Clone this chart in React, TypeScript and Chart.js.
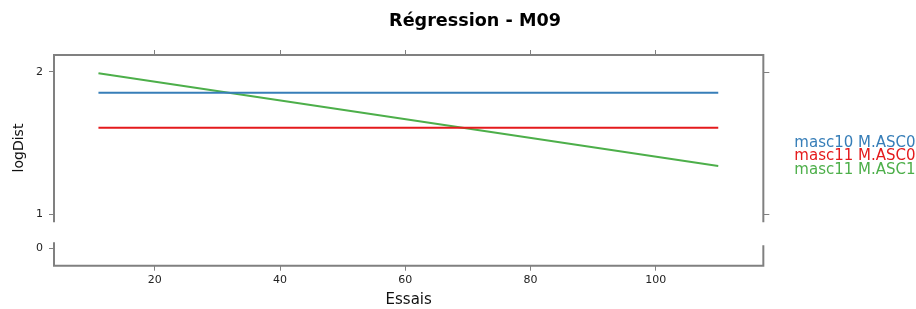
import React, { useEffect, useRef } from "react";
import { Chart, registerables } from "chart.js";

Chart.register(...registerables);

// ---- data ----
const TITLE = "Régression - M09";
const X_LABEL = "Essais";
const Y_LABEL = "logDist";
const seriesNames = ["masc10 M.ASC0", "masc11 M.ASC0", "masc11 M.ASC1"];
const essais = [11, 110];
const masc10ASC0 = [1.853, 1.853];
const masc11ASC0 = [1.607, 1.607];
const masc11ASC1 = [1.989, 1.339];
const xTicks = [20, 40, 60, 80, 100];
const yUpperTicks = [1, 2];
const yLowerTicks = [0];
const xRange = [3.9, 117.2];
const yUpperRange = [0.813, 2.117];
const yLowerRange = [-0.122, 0.051];
const upperBreak = 0.944;
const lowerBreakLeft = 0.042;
const lowerBreakRight = 0.021;

// ---- styles ----
const W = 916;
const H = 309;
const AREA = { left: 54, top: 55, bottom: 265.7 };
const colors = ["#377EB8", "#E41A1C", "#4DAF4A"];
const FRAME = "#808080";
const FONT = "'DejaVu Sans', sans-serif";

const frameAndShift = {
  id: "frameAndShift",
  afterLayout(chart: any) {
    const t = chart.titleBlock;
    if (t) {
      t.left += 17;
      t.right += 17;
    }
    const lg = chart.legend;
    if (lg) {
      lg.top += 2;
      lg.bottom += 2;
    }
  },
  afterDraw(chart: any) {
    const { ctx, chartArea } = chart;
    const yU = chart.scales.yU;
    const yL = chart.scales.yL;
    const { left, right, top, bottom } = chartArea;
    ctx.save();
    ctx.strokeStyle = FRAME;
    ctx.lineWidth = 2;
    ctx.lineCap = "butt";
    ctx.beginPath();
    ctx.moveTo(left - 1, top);
    ctx.lineTo(right + 1, top);
    ctx.moveTo(left - 1, bottom);
    ctx.lineTo(right + 1, bottom);
    ctx.moveTo(left, top);
    ctx.lineTo(left, yU.getPixelForValue(upperBreak));
    ctx.moveTo(left, yL.getPixelForValue(lowerBreakLeft));
    ctx.lineTo(left, bottom);
    ctx.moveTo(right, top);
    ctx.lineTo(right, yU.getPixelForValue(upperBreak));
    ctx.moveTo(right, yL.getPixelForValue(lowerBreakRight));
    ctx.lineTo(right, bottom);
    ctx.stroke();
    // mirrored ticks on the right side
    ctx.lineWidth = 1;
    ctx.beginPath();
    yUpperTicks.forEach((v) => {
      const py = Math.round(yU.getPixelForValue(v)) + 0.5;
      ctx.moveTo(right, py);
      ctx.lineTo(right + 6, py);
    });
    ctx.stroke();
    ctx.restore();
  },
};

const tickGrid = {
  drawOnChartArea: false,
  drawTicks: true,
  tickLength: 5,
  color: FRAME,
  tickColor: FRAME,
  lineWidth: 1,
};

const tickFont = { family: FONT, size: 11 };

export default function App() {
  const ref = useRef<HTMLCanvasElement>(null);

  useEffect(() => {
    if (!ref.current) return;
    const series = [masc10ASC0, masc11ASC0, masc11ASC1];
    const chart = new Chart(ref.current, {
      type: "line",
      data: {
        datasets: series.map((vals, i) => ({
          label: seriesNames[i],
          data: essais.map((x, j) => ({ x, y: vals[j] })),
          borderColor: colors[i],
          backgroundColor: colors[i],
          borderWidth: 2,
          pointRadius: 0,
          tension: 0,
          fill: false,
          yAxisID: "yU",
          xAxisID: "x",
        })),
      },
      options: {
        responsive: false,
        animation: false,
        devicePixelRatio: 1,
        layout: { padding: 0 },
        plugins: {
          tooltip: { enabled: false },
          title: {
            display: true,
            text: TITLE,
            color: "#000",
            font: { family: FONT, size: 17.6, weight: "bold" },
            padding: { top: 11, bottom: 0 },
          },
          legend: {
            display: true,
            position: "right",
            align: "center",
            labels: {
              boxWidth: 25,
              boxHeight: 0,
              padding: -1.5,
              font: { family: FONT, size: 15 },
              generateLabels: (c: any) =>
                c.data.datasets.map((ds: any, i: number) => ({
                  text: ds.label,
                  fontColor: colors[i],
                  fillStyle: "rgba(0,0,0,0)",
                  strokeStyle: "rgba(0,0,0,0)",
                  lineWidth: 0,
                  hidden: false,
                  datasetIndex: i,
                })),
            },
          },
        },
        scales: {
          x: {
            type: "linear",
            position: "bottom",
            min: xRange[0],
            max: xRange[1],
            afterBuildTicks: (s: any) => {
              s.ticks = xTicks.map((v) => ({ value: v }));
            },
            afterFit: (s: any) => {
              s.height = H - AREA.bottom;
            },
            grid: tickGrid,
            border: { display: false },
            ticks: { color: "#222", font: tickFont, padding: 3, maxRotation: 0 },
            title: {
              display: true,
              text: X_LABEL,
              color: "#111",
              font: { family: FONT, size: 15 },
              padding: { top: 0, bottom: 0 },
            },
          },
          xTop: {
            type: "linear",
            position: "top",
            min: xRange[0],
            max: xRange[1],
            afterBuildTicks: (s: any) => {
              s.ticks = xTicks.map((v) => ({ value: v }));
            },
            afterFit: (s: any) => {
              const tb = (s.chart as any).titleBlock;
              s.height = AREA.top - (tb ? tb.height : 32);
            },
            grid: tickGrid,
            border: { display: false },
            ticks: { display: false },
          },
          yU: {
            type: "linear",
            position: "left",
            stack: "L",
            stackWeight: 186,
            weight: 1,
            min: yUpperRange[0],
            max: yUpperRange[1],
            afterBuildTicks: (s: any) => {
              s.ticks = yUpperTicks.map((v) => ({ value: v }));
            },
            afterFit: (s: any) => {
              s.width = AREA.left;
            },
            grid: tickGrid,
            border: { display: false },
            ticks: { color: "#222", font: tickFont, padding: 6 },
            title: {
              display: true,
              text: Y_LABEL,
              color: "#111",
              font: { family: FONT, size: 14 },
              padding: { top: 10.6, bottom: 0 },
            },
          },
          yL: {
            type: "linear",
            position: "left",
            stack: "L",
            stackWeight: 24.7,
            weight: 0,
            min: yLowerRange[0],
            max: yLowerRange[1],
            afterBuildTicks: (s: any) => {
              s.ticks = yLowerTicks.map((v) => ({ value: v }));
            },
            afterFit: (s: any) => {
              s.width = AREA.left;
            },
            grid: tickGrid,
            border: { display: false },
            ticks: { color: "#222", font: tickFont, padding: 6 },
          },
        },
      } as any,
      plugins: [frameAndShift],
    });
    return () => chart.destroy();
  }, []);

  return (
    <div style={{ position: "fixed", left: 0, top: 0, width: W, height: H, background: "#fff" }}>
      <canvas ref={ref} width={W} height={H} style={{ width: W, height: H, display: "block" }} />
    </div>
  );
}
